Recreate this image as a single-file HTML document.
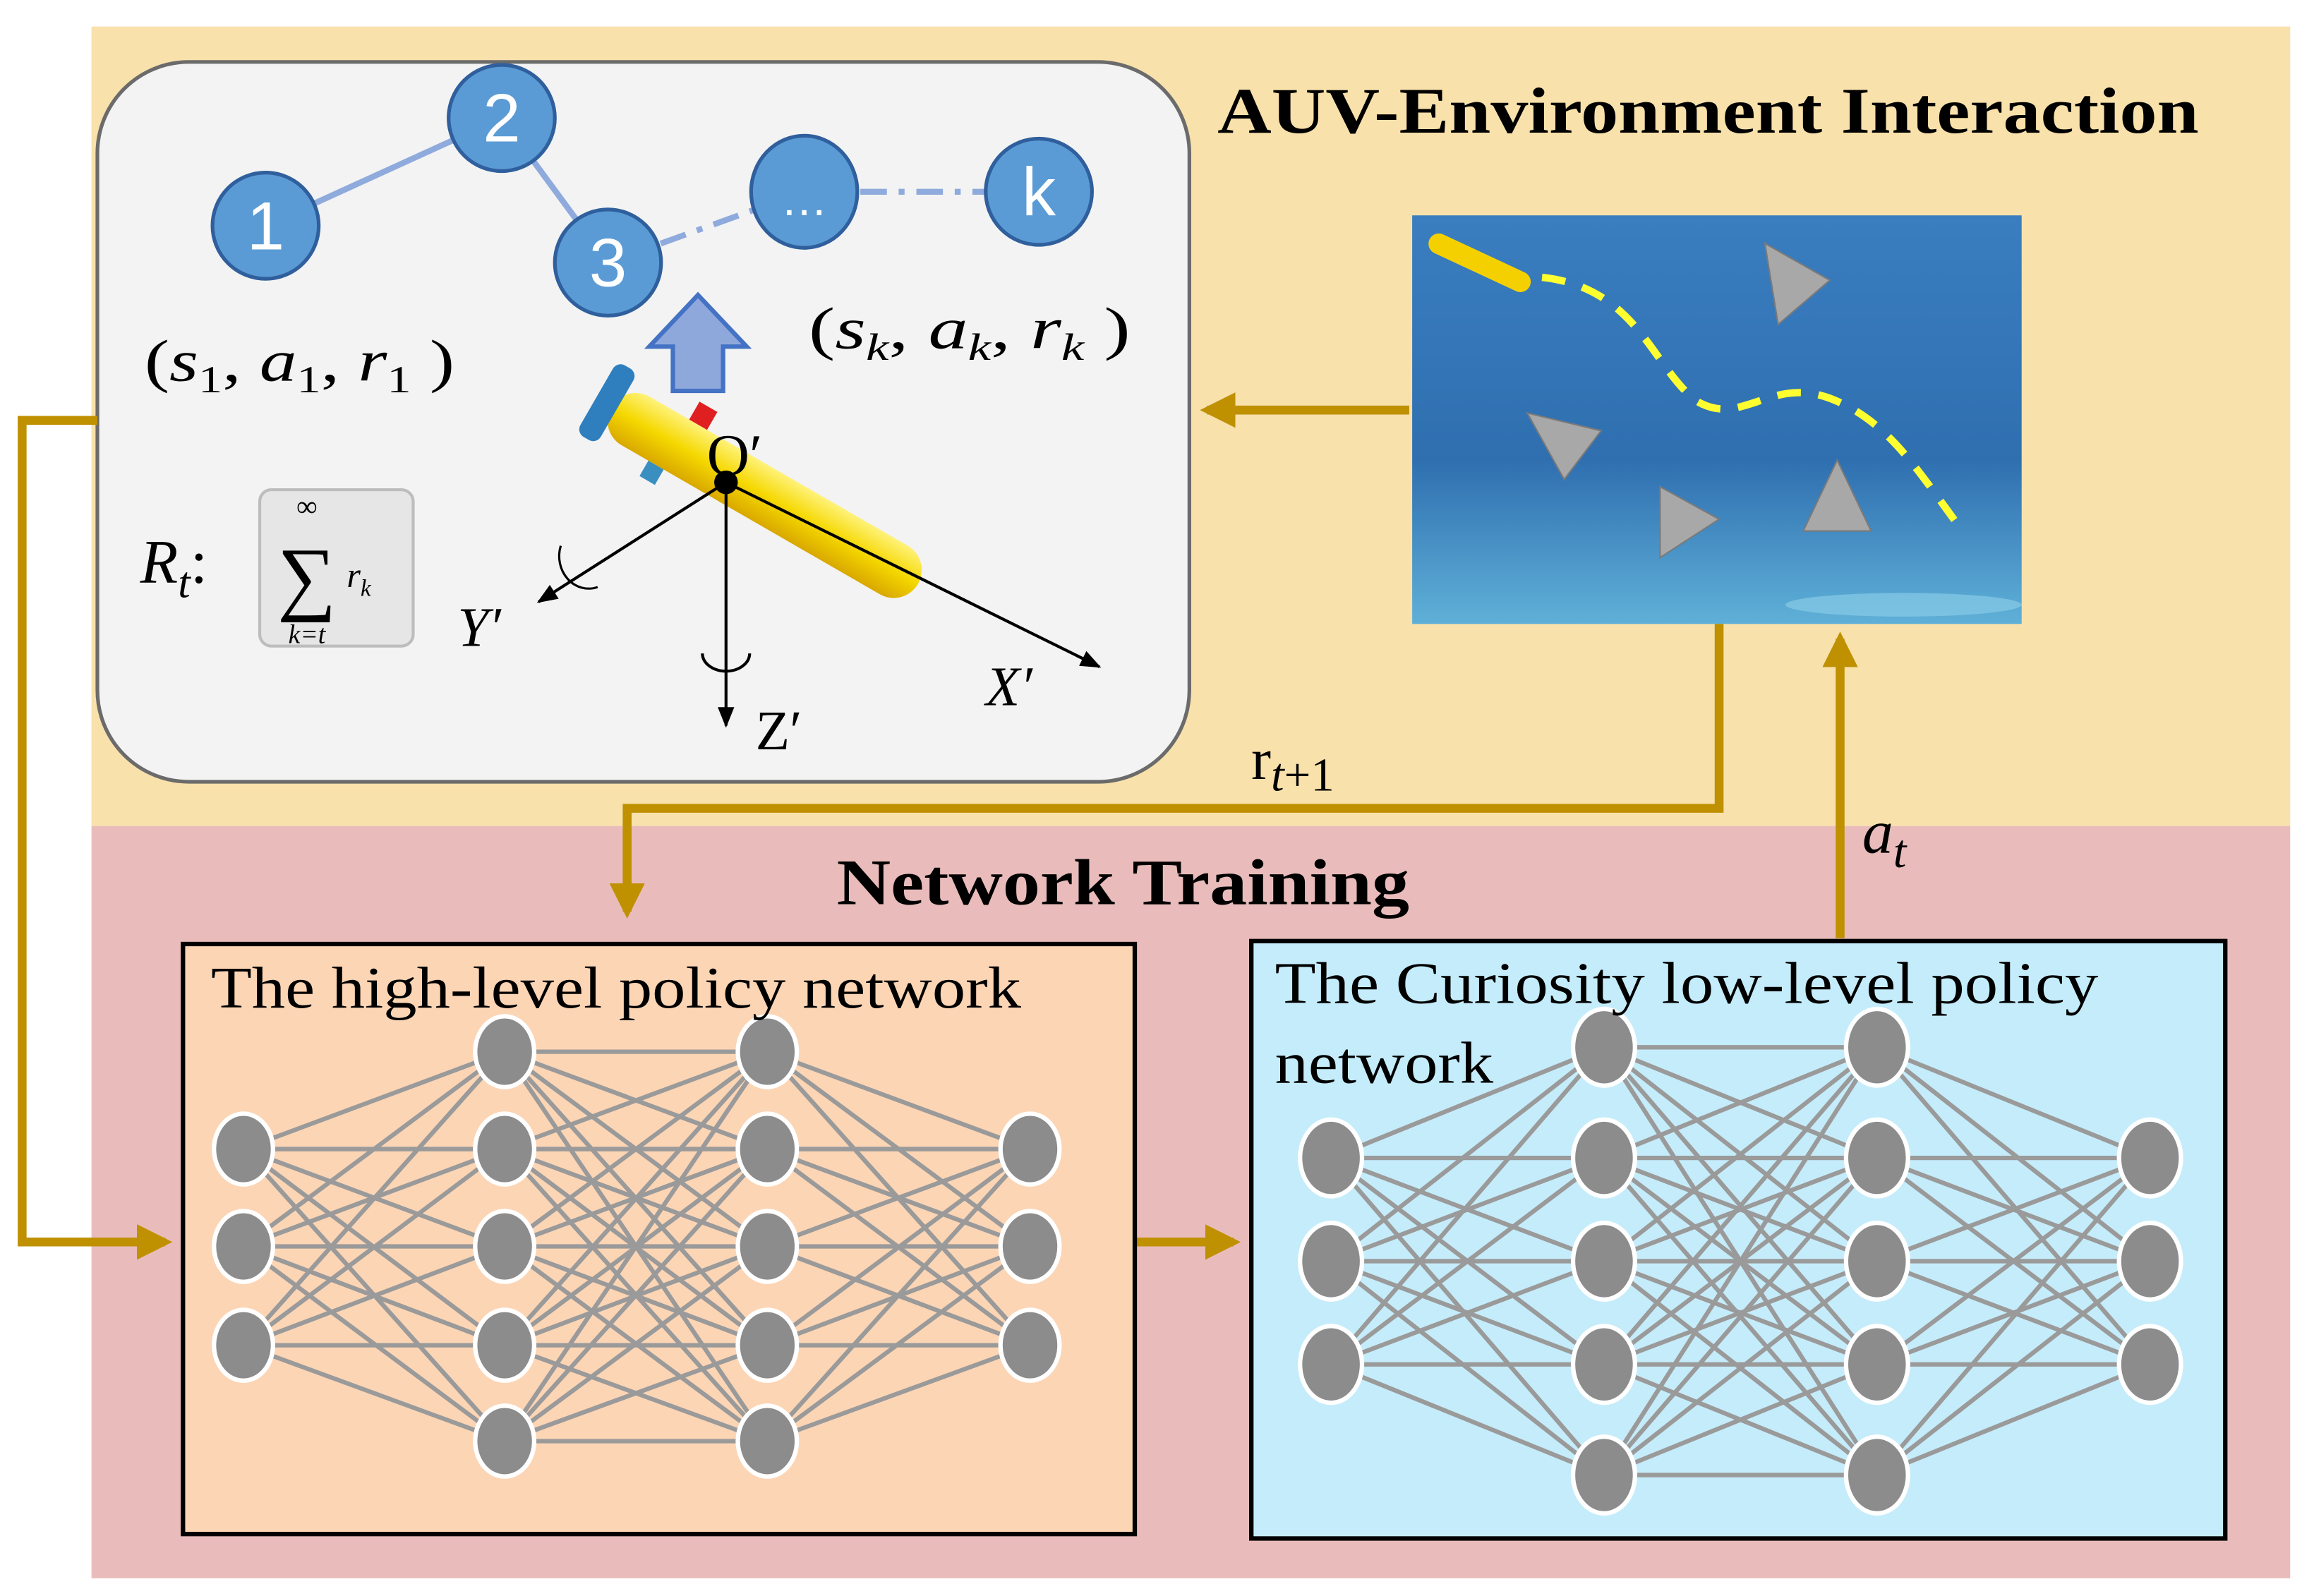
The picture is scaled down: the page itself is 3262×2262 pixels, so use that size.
<!DOCTYPE html>
<html><head><meta charset="utf-8"><style>html,body{margin:0;padding:0;background:#fff}svg{display:block}</style></head><body>
<svg width="3262" height="2262" viewBox="0 0 1560 1082" preserveAspectRatio="none" xmlns="http://www.w3.org/2000/svg" font-family="Liberation Serif, serif">
<defs>
<linearGradient id="sea" x1="0" y1="0" x2="0" y2="1"><stop offset="0" stop-color="#3a7ec0"/><stop offset="0.6" stop-color="#2f6fb0"/><stop offset="1" stop-color="#5fb0d8"/></linearGradient>
<linearGradient id="auv" x1="0" y1="0" x2="0" y2="1"><stop offset="0" stop-color="#fff27a"/><stop offset="0.5" stop-color="#f5d800"/><stop offset="1" stop-color="#d9a800"/></linearGradient>
<marker id="ah" viewBox="0 0 10 10" refX="8" refY="5" markerWidth="4" markerHeight="4" orient="auto"><path d="M0,0 L10,5 L0,10 z" fill="#bf9000"/></marker>
<marker id="bk" viewBox="0 0 10 10" refX="9" refY="5" markerWidth="7" markerHeight="7" orient="auto"><path d="M0,1 L10,5 L0,9 z" fill="#000"/></marker>
</defs>
<rect x="62" y="18" width="1490" height="542" fill="#f8e1ab"/>
<rect x="62" y="560" width="1490" height="510" fill="#e9bcbb"/>
<rect x="66" y="42" width="740" height="488" rx="62" fill="#f3f3f3" stroke="#6b6b6b" stroke-width="2.5"/>
<text x="825" y="90" font-size="44" font-weight="bold" textLength="665" lengthAdjust="spacingAndGlyphs">AUV-Environment Interaction</text>
<g stroke="#8faadc" stroke-width="4" fill="none">
<line x1="180" y1="153" x2="340" y2="80"/><line x1="340" y1="80" x2="412" y2="178"/>
<line x1="412" y1="178" x2="545" y2="130" stroke-dasharray="18,8,4,8"/>
<line x1="545" y1="130" x2="704" y2="130" stroke-dasharray="18,8,4,8"/>
</g>
<g fill="#5b9bd5" stroke="#2f5f9c" stroke-width="2.5">
<circle cx="180" cy="153" r="36"/><circle cx="340" cy="80" r="36"/><circle cx="412" cy="178" r="36"/><ellipse cx="545" cy="130" rx="36" ry="38"/><circle cx="704" cy="130" r="36"/>
</g>
<g fill="#fff" font-family="Liberation Sans, sans-serif" font-size="46" text-anchor="middle">
<text x="180" y="169">1</text><text x="340" y="96">2</text><text x="412" y="194">3</text><text x="545" y="146" font-size="32">…</text><text x="704" y="146">k</text>
</g>
<text x="98" y="258" font-size="40" textLength="210" lengthAdjust="spacingAndGlyphs">(<tspan font-style="italic">s</tspan><tspan font-size="26" dy="8">1</tspan><tspan dy="-8">, </tspan><tspan font-style="italic">a</tspan><tspan font-size="26" dy="8">1</tspan><tspan dy="-8">, </tspan><tspan font-style="italic">r</tspan><tspan font-size="26" dy="8">1</tspan><tspan dy="-8"> )</tspan></text>
<text x="548" y="236" font-size="40" textLength="218" lengthAdjust="spacingAndGlyphs">(<tspan font-style="italic">s</tspan><tspan font-size="26" font-style="italic" dy="8">k</tspan><tspan dy="-8">, </tspan><tspan font-style="italic">a</tspan><tspan font-size="26" font-style="italic" dy="8">k</tspan><tspan dy="-8">, </tspan><tspan font-style="italic">r</tspan><tspan font-size="26" font-style="italic" dy="8">k</tspan><tspan dy="-8"> )</tspan></text>
<path d="M473,200 L506,235 L490,235 L490,265 L456,265 L456,235 L440,235 Z" fill="#8fa8dc" stroke="#4472c4" stroke-width="3"/>
<g transform="rotate(30 510 330)">
<rect x="400" y="312" width="240" height="38" rx="19" fill="url(#auv)"/>
<rect x="388" y="302" width="16" height="56" rx="6" fill="#2f7fbf"/>
<rect x="450" y="298" width="14" height="14" fill="#e02020"/>
<rect x="440" y="350" width="12" height="12" fill="#3a8fc0"/>
</g>
<g stroke="#000" stroke-width="2">
<line x1="492" y1="327" x2="365" y2="408" marker-end="url(#bk)"/>
<line x1="492" y1="327" x2="492" y2="492" marker-end="url(#bk)"/>
<line x1="492" y1="327" x2="745" y2="452" marker-end="url(#bk)"/>
</g>
<circle cx="492" cy="327" r="8" fill="#000"/>
<path d="M476,443 A16,12 0 0 0 508,443" fill="none" stroke="#000" stroke-width="2"/>
<path d="M380,370 A20,22 0 0 0 405,398" fill="none" stroke="#000" stroke-width="1.5"/>
<text x="479" y="322" font-size="40">O′</text>
<text x="310" y="438" font-size="38" font-style="italic">Y′</text>
<text x="512" y="508" font-size="38">Z′</text>
<text x="668" y="478" font-size="38" font-style="italic">X′</text>
<text x="95" y="395" font-size="42" font-style="italic">R<tspan font-size="30" dy="10">t</tspan><tspan dy="-10" font-style="normal">:</tspan></text>
<rect x="176" y="332" width="104" height="106" rx="8" fill="#e6e6e6" stroke="#bdbdbd" stroke-width="2"/>
<text x="208" y="350" font-size="20" text-anchor="middle">∞</text>
<text x="208" y="410" font-size="56" text-anchor="middle">∑</text>
<text x="235" y="398" font-size="24" font-style="italic">r<tspan font-size="16" dy="6">k</tspan></text>
<text x="208" y="436" font-size="18" font-style="italic" text-anchor="middle">k=t</text>
<rect x="957" y="146" width="413" height="277" fill="url(#sea)"/>
<path d="M1045,188 C1110,195 1120,250 1150,272 C1180,290 1200,255 1240,270 C1280,285 1300,320 1330,360" fill="none" stroke="#ffff30" stroke-width="5" stroke-dasharray="16,12"/>
<g transform="rotate(25 1000 178)"><rect x="965" y="170" width="75" height="14" rx="7" fill="#f5d000"/></g>
<g fill="#a8a8a8" stroke="#7a7a7a"><path d="M1196,165 L1240,190 L1205,220 Z"/><path d="M1035,280 L1085,292 L1060,325 Z"/><path d="M1125,330 L1165,352 L1125,378 Z"/><path d="M1222,360 L1245,312 L1268,360 Z"/></g>
<ellipse cx="1290" cy="410" rx="80" ry="8" fill="#8fd0ea" opacity="0.6"/>
<g stroke="#bf9000" stroke-width="6" fill="none">
<polyline points="955,278 818,278" marker-end="url(#ah)"/>
<polyline points="66,285 15,285 15,842 112,842" marker-end="url(#ah)"/>
<polyline points="1165,423 1165,548 425,548 425,618" marker-end="url(#ah)"/>
<polyline points="1247,636 1247,433" marker-end="url(#ah)"/>
<polyline points="770,842 836,842" marker-end="url(#ah)"/>
</g>
<text x="848" y="528" font-size="40">r<tspan font-style="italic" font-size="32" dy="8">t</tspan><tspan font-size="32">+1</tspan></text>
<text x="1262" y="578" font-size="42" font-style="italic">a<tspan font-size="32" dy="10">t</tspan></text>
<text x="567" y="613" font-size="44" font-weight="bold" textLength="388" lengthAdjust="spacingAndGlyphs">Network Training</text>
<rect x="124" y="640" width="645" height="400" fill="#fcd5b5" stroke="#000" stroke-width="3"/>
<rect x="848" y="638" width="660" height="405" fill="#c5ecfa" stroke="#000" stroke-width="3"/>
<g stroke="#9a9a9a" stroke-width="3">
<path d="M165,779L342,713M165,779L342,779M165,779L342,845M165,779L342,912M165,779L342,977M165,845L342,713M165,845L342,779M165,845L342,845M165,845L342,912M165,845L342,977M165,912L342,713M165,912L342,779M165,912L342,845M165,912L342,912M165,912L342,977"/>
<path d="M342,713L520,713M342,713L520,779M342,713L520,845M342,713L520,912M342,713L520,977M342,779L520,713M342,779L520,779M342,779L520,845M342,779L520,912M342,779L520,977M342,845L520,713M342,845L520,779M342,845L520,845M342,845L520,912M342,845L520,977M342,912L520,713M342,912L520,779M342,912L520,845M342,912L520,912M342,912L520,977M342,977L520,713M342,977L520,779M342,977L520,845M342,977L520,912M342,977L520,977"/>
<path d="M698,779L520,713M698,779L520,779M698,779L520,845M698,779L520,912M698,779L520,977M698,845L520,713M698,845L520,779M698,845L520,845M698,845L520,912M698,845L520,977M698,912L520,713M698,912L520,779M698,912L520,845M698,912L520,912M698,912L520,977"/>
<path d="M902,785L1087,710M902,785L1087,785M902,785L1087,855M902,785L1087,925M902,785L1087,1000M902,855L1087,710M902,855L1087,785M902,855L1087,855M902,855L1087,925M902,855L1087,1000M902,925L1087,710M902,925L1087,785M902,925L1087,855M902,925L1087,925M902,925L1087,1000"/>
<path d="M1087,710L1272,710M1087,710L1272,785M1087,710L1272,855M1087,710L1272,925M1087,710L1272,1000M1087,785L1272,710M1087,785L1272,785M1087,785L1272,855M1087,785L1272,925M1087,785L1272,1000M1087,855L1272,710M1087,855L1272,785M1087,855L1272,855M1087,855L1272,925M1087,855L1272,1000M1087,925L1272,710M1087,925L1272,785M1087,925L1272,855M1087,925L1272,925M1087,925L1272,1000M1087,1000L1272,710M1087,1000L1272,785M1087,1000L1272,855M1087,1000L1272,925M1087,1000L1272,1000"/>
<path d="M1457,785L1272,710M1457,785L1272,785M1457,785L1272,855M1457,785L1272,925M1457,785L1272,1000M1457,855L1272,710M1457,855L1272,785M1457,855L1272,855M1457,855L1272,925M1457,855L1272,1000M1457,925L1272,710M1457,925L1272,785M1457,925L1272,855M1457,925L1272,925M1457,925L1272,1000"/>
</g>
<g fill="#8c8c8c" stroke="#fff" stroke-width="3">
<ellipse cx="165" cy="779" rx="20" ry="24"/><ellipse cx="165" cy="845" rx="20" ry="24"/><ellipse cx="165" cy="912" rx="20" ry="24"/>
<ellipse cx="342" cy="713" rx="20" ry="24"/><ellipse cx="342" cy="779" rx="20" ry="24"/><ellipse cx="342" cy="845" rx="20" ry="24"/><ellipse cx="342" cy="912" rx="20" ry="24"/><ellipse cx="342" cy="977" rx="20" ry="24"/>
<ellipse cx="520" cy="713" rx="20" ry="24"/><ellipse cx="520" cy="779" rx="20" ry="24"/><ellipse cx="520" cy="845" rx="20" ry="24"/><ellipse cx="520" cy="912" rx="20" ry="24"/><ellipse cx="520" cy="977" rx="20" ry="24"/>
<ellipse cx="698" cy="779" rx="20" ry="24"/><ellipse cx="698" cy="845" rx="20" ry="24"/><ellipse cx="698" cy="912" rx="20" ry="24"/>
<ellipse cx="902" cy="785" rx="21" ry="26"/><ellipse cx="902" cy="855" rx="21" ry="26"/><ellipse cx="902" cy="925" rx="21" ry="26"/>
<ellipse cx="1087" cy="710" rx="21" ry="26"/><ellipse cx="1087" cy="785" rx="21" ry="26"/><ellipse cx="1087" cy="855" rx="21" ry="26"/><ellipse cx="1087" cy="925" rx="21" ry="26"/><ellipse cx="1087" cy="1000" rx="21" ry="26"/>
<ellipse cx="1272" cy="710" rx="21" ry="26"/><ellipse cx="1272" cy="785" rx="21" ry="26"/><ellipse cx="1272" cy="855" rx="21" ry="26"/><ellipse cx="1272" cy="925" rx="21" ry="26"/><ellipse cx="1272" cy="1000" rx="21" ry="26"/>
<ellipse cx="1457" cy="785" rx="21" ry="26"/><ellipse cx="1457" cy="855" rx="21" ry="26"/><ellipse cx="1457" cy="925" rx="21" ry="26"/>
</g>
<text x="143" y="683" font-size="40" textLength="549" lengthAdjust="spacingAndGlyphs">The high-level policy network</text>
<text x="864" y="680" font-size="40" textLength="558" lengthAdjust="spacingAndGlyphs">The Curiosity low-level policy</text>
<text x="864" y="734" font-size="40" textLength="148" lengthAdjust="spacingAndGlyphs">network</text>
</svg>
</body></html>
